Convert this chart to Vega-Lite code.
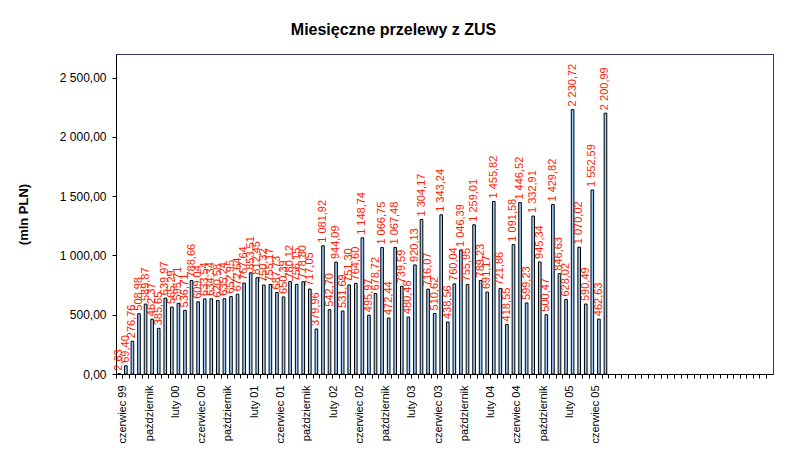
{
  "$schema": "https://vega.github.io/schema/vega-lite/v6.json",
  "autosize": {"type": "none"},
  "width": 657,
  "height": 320,
  "padding": {"left": 116, "top": 54, "right": 15, "bottom": 86},
  "background": "white",
  "title": {"text": "Miesięczne przelewy z ZUS", "font": "Liberation Sans", "fontSize": 16, "fontWeight": "bold", "color": "black", "anchor": "middle", "frame": "group", "dx": -51, "offset": 16},
  "config": {
    "locale": {"number": {"decimal": ",", "thousands": " ", "grouping": [3], "currency": ["", " zł"]}},
    "view": {"stroke": "#33336B", "strokeWidth": 1},
    "font": "Liberation Sans"
  },
  "data": {"values": [
    {"miesiac": "1999-06", "wartosc": 2.63},
    {"miesiac": "1999-07", "wartosc": 69.40},
    {"miesiac": "1999-08", "wartosc": 276.76},
    {"miesiac": "1999-09", "wartosc": 508.98},
    {"miesiac": "1999-10", "wartosc": 589.87},
    {"miesiac": "1999-11", "wartosc": 462.37},
    {"miesiac": "1999-12", "wartosc": 385.65},
    {"miesiac": "2000-01", "wartosc": 639.97},
    {"miesiac": "2000-02", "wartosc": 565.29},
    {"miesiac": "2000-03", "wartosc": 595.71},
    {"miesiac": "2000-04", "wartosc": 536.71},
    {"miesiac": "2000-05", "wartosc": 788.66},
    {"miesiac": "2000-06", "wartosc": 609.04},
    {"miesiac": "2000-07", "wartosc": 633.54},
    {"miesiac": "2000-08", "wartosc": 634.34},
    {"miesiac": "2000-09", "wartosc": 620.58},
    {"miesiac": "2000-10", "wartosc": 635.24},
    {"miesiac": "2000-11", "wartosc": 652.95},
    {"miesiac": "2000-12", "wartosc": 672.64},
    {"miesiac": "2001-01", "wartosc": 767.64},
    {"miesiac": "2001-02", "wartosc": 853.51},
    {"miesiac": "2001-03", "wartosc": 812.45},
    {"miesiac": "2001-04", "wartosc": 750.32},
    {"miesiac": "2001-05", "wartosc": 755.17},
    {"miesiac": "2001-06", "wartosc": 687.73},
    {"miesiac": "2001-07", "wartosc": 650.39},
    {"miesiac": "2001-08", "wartosc": 780.12},
    {"miesiac": "2001-09", "wartosc": 756.15},
    {"miesiac": "2001-10", "wartosc": 778.80},
    {"miesiac": "2001-11", "wartosc": 717.05},
    {"miesiac": "2001-12", "wartosc": 379.96},
    {"miesiac": "2002-01", "wartosc": 1081.92},
    {"miesiac": "2002-02", "wartosc": 542.70},
    {"miesiac": "2002-03", "wartosc": 944.09},
    {"miesiac": "2002-04", "wartosc": 531.69},
    {"miesiac": "2002-05", "wartosc": 751.30},
    {"miesiac": "2002-06", "wartosc": 764.60},
    {"miesiac": "2002-07", "wartosc": 1148.74},
    {"miesiac": "2002-08", "wartosc": 495.97},
    {"miesiac": "2002-09", "wartosc": 678.72},
    {"miesiac": "2002-10", "wartosc": 1066.75},
    {"miesiac": "2002-11", "wartosc": 472.44},
    {"miesiac": "2002-12", "wartosc": 1067.48},
    {"miesiac": "2003-01", "wartosc": 739.59},
    {"miesiac": "2003-02", "wartosc": 480.48},
    {"miesiac": "2003-03", "wartosc": 920.13},
    {"miesiac": "2003-04", "wartosc": 1304.17},
    {"miesiac": "2003-05", "wartosc": 716.07},
    {"miesiac": "2003-06", "wartosc": 510.62},
    {"miesiac": "2003-07", "wartosc": 1343.24},
    {"miesiac": "2003-08", "wartosc": 438.56},
    {"miesiac": "2003-09", "wartosc": 760.04},
    {"miesiac": "2003-10", "wartosc": 1046.39},
    {"miesiac": "2003-11", "wartosc": 755.95},
    {"miesiac": "2003-12", "wartosc": 1259.01},
    {"miesiac": "2004-01", "wartosc": 789.23},
    {"miesiac": "2004-02", "wartosc": 691.17},
    {"miesiac": "2004-03", "wartosc": 1455.82},
    {"miesiac": "2004-04", "wartosc": 721.86},
    {"miesiac": "2004-05", "wartosc": 418.55},
    {"miesiac": "2004-06", "wartosc": 1091.58},
    {"miesiac": "2004-07", "wartosc": 1446.52},
    {"miesiac": "2004-08", "wartosc": 599.23},
    {"miesiac": "2004-09", "wartosc": 1332.91},
    {"miesiac": "2004-10", "wartosc": 945.34},
    {"miesiac": "2004-11", "wartosc": 500.47},
    {"miesiac": "2004-12", "wartosc": 1429.82},
    {"miesiac": "2005-01", "wartosc": 846.63},
    {"miesiac": "2005-02", "wartosc": 628.02},
    {"miesiac": "2005-03", "wartosc": 2230.72},
    {"miesiac": "2005-04", "wartosc": 1070.02},
    {"miesiac": "2005-05", "wartosc": 590.49},
    {"miesiac": "2005-06", "wartosc": 1552.59},
    {"miesiac": "2005-07", "wartosc": 462.63},
    {"miesiac": "2005-08", "wartosc": 2200.99}
  ]},
  "encoding": {
    "x": {
      "field": "miesiac",
      "type": "ordinal",
      "sort": null,
      "scale": {
        "domain": ["1999-06","1999-07","1999-08","1999-09","1999-10","1999-11","1999-12",
          "2000-01","2000-02","2000-03","2000-04","2000-05","2000-06","2000-07","2000-08","2000-09","2000-10","2000-11","2000-12",
          "2001-01","2001-02","2001-03","2001-04","2001-05","2001-06","2001-07","2001-08","2001-09","2001-10","2001-11","2001-12",
          "2002-01","2002-02","2002-03","2002-04","2002-05","2002-06","2002-07","2002-08","2002-09","2002-10","2002-11","2002-12",
          "2003-01","2003-02","2003-03","2003-04","2003-05","2003-06","2003-07","2003-08","2003-09","2003-10","2003-11","2003-12",
          "2004-01","2004-02","2004-03","2004-04","2004-05","2004-06","2004-07","2004-08","2004-09","2004-10","2004-11","2004-12",
          "2005-01","2005-02","2005-03","2005-04","2005-05","2005-06","2005-07","2005-08","2005-09","2005-10","2005-11","2005-12",
          "2006-01","2006-02","2006-03","2006-04","2006-05","2006-06","2006-07","2006-08","2006-09","2006-10","2006-11","2006-12",
          "2007-01","2007-02","2007-03","2007-04","2007-05","2007-06","2007-07","2007-08","2007-09"],
        "paddingInner": 0,
        "paddingOuter": 0
      },
      "axis": {
        "title": null,
        "labelAngle": -90,
        "labelFontSize": 11,
        "labelColor": "black",
        "labelFont": "Liberation Sans",
        "labelOverlap": false,
        "labelPadding": 7,
        "labelOffset": 4,
        "bandPosition": 0,
        "tickSize": 4,
        "tickColor": "black",
        "domainColor": "black",
        "grid": false,
        "labelExpr": "((toNumber(substring(datum.value,0,4))*12 + toNumber(substring(datum.value,5,7)) - 23994) % 4 == 0 && (toNumber(substring(datum.value,0,4))*12 + toNumber(substring(datum.value,5,7))) <= 24066) ? (toNumber(substring(datum.value,5,7)) == 6 ? 'czerwiec ' + substring(datum.value,2,4) : (toNumber(substring(datum.value,5,7)) == 10 ? 'październik' : 'luty ' + substring(datum.value,2,4))) : ''"
      }
    },
    "y": {
      "field": "wartosc",
      "type": "quantitative",
      "scale": {"domain": [0, 2700], "nice": false, "zero": true},
      "axis": {
        "values": [0, 500, 1000, 1500, 2000, 2500],
        "format": ",.2f",
        "labelFontSize": 12,
        "labelColor": "black",
        "labelPadding": 6,
        "tickSize": 4,
        "tickColor": "black",
        "domainColor": "black",
        "grid": false,
        "title": "(mln PLN)",
        "titleFontSize": 13,
        "titleFontWeight": "bold",
        "titleColor": "black",
        "titlePadding": 29
      }
    }
  },
  "layer": [
    {
      "mark": {"type": "bar", "fill": "#99CCFF", "stroke": "black", "strokeWidth": 1, "width": {"band": 0.4}}
    },
    {
      "mark": {"type": "text", "angle": -90, "align": "left", "baseline": "middle", "dx": 3, "color": "#FF1A00", "fontSize": 11, "font": "Liberation Sans"},
      "encoding": {
        "text": {"field": "wartosc", "type": "quantitative", "format": ",.2f"}
      }
    }
  ]
}
